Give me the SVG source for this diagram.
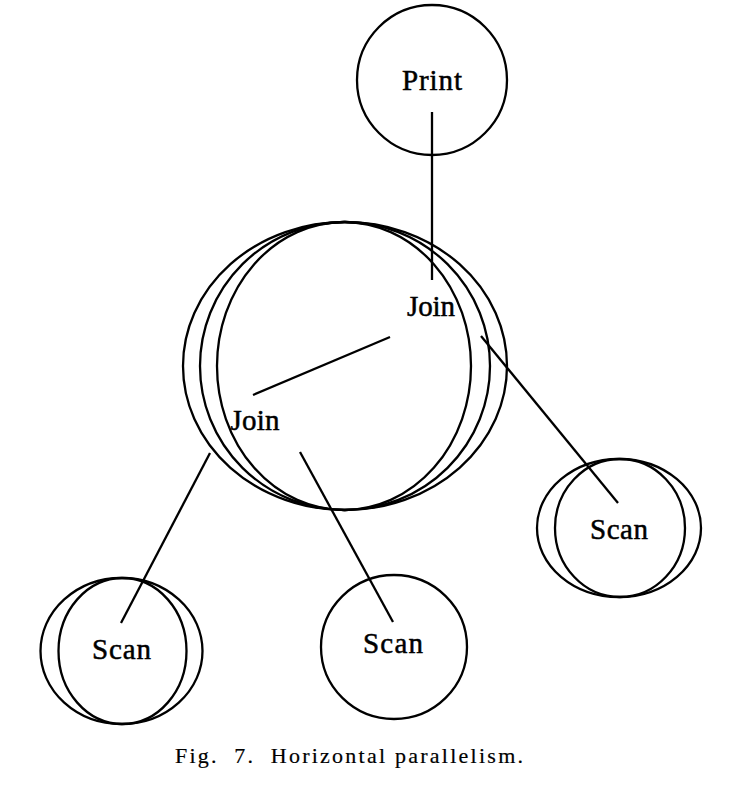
<svg xmlns="http://www.w3.org/2000/svg" width="748" height="786" viewBox="0 0 748 786">
<style>
.n{fill:none;stroke:#000;stroke-width:2.3}
.t{font-family:"Liberation Serif","Times New Roman",serif;font-size:29px;fill:#000;stroke:#000;stroke-width:0.5;text-anchor:middle}
.c{stroke:#000;stroke-width:2.3;fill:none;stroke-linecap:butt}
.cap{font-family:"Liberation Serif","Times New Roman",serif;font-size:22px;fill:#000;stroke:#000;stroke-width:0.2}
</style>
<rect width="748" height="786" fill="#fff"/>
<g id="print">
<circle class="n" cx="432" cy="80" r="75"/>
<text class="t" x="432" y="90" textLength="60" lengthAdjust="spacing">Print</text>
</g>
<g id="join-cluster">
<ellipse class="n" cx="345" cy="366" rx="162" ry="144"/>
<ellipse class="n" cx="345" cy="366" rx="145" ry="144"/>
<ellipse class="n" cx="344" cy="366" rx="127" ry="144"/>
</g>
<g id="join1">
<text class="t" x="431" y="316" textLength="48" lengthAdjust="spacing">Join</text>
</g>
<g id="join2">
<text class="t" x="255" y="430" textLength="49" lengthAdjust="spacing">Join</text>
</g>
<g id="scan-right">
<ellipse class="n" cx="619" cy="528" rx="82" ry="69"/>
<ellipse class="n" cx="620" cy="528" rx="65" ry="69"/>
<text class="t" x="619" y="539" textLength="58" lengthAdjust="spacing">Scan</text>
</g>
<g id="scan-left">
<ellipse class="n" cx="121.5" cy="651" rx="81" ry="73"/>
<ellipse class="n" cx="122.5" cy="651" rx="64" ry="73"/>
<text class="t" x="121.5" y="659" textLength="59" lengthAdjust="spacing">Scan</text>
</g>
<g id="scan-middle">
<ellipse class="n" cx="394" cy="647" rx="73" ry="72"/>
<text class="t" x="393" y="653" textLength="60" lengthAdjust="spacing">Scan</text>
</g>
<g id="connectors">
<line class="c" x1="432" y1="112" x2="432" y2="280"/>
<line class="c" x1="390" y1="337" x2="253" y2="395"/>
<line class="c" x1="481" y1="336" x2="618" y2="503"/>
<line class="c" x1="300" y1="452" x2="393" y2="622"/>
<line class="c" x1="210" y1="453" x2="121" y2="623"/>
</g>
<text class="cap" x="175" y="763" textLength="348" lengthAdjust="spacing" xml:space="preserve">Fig.  7.  Horizontal parallelism.</text>
</svg>
